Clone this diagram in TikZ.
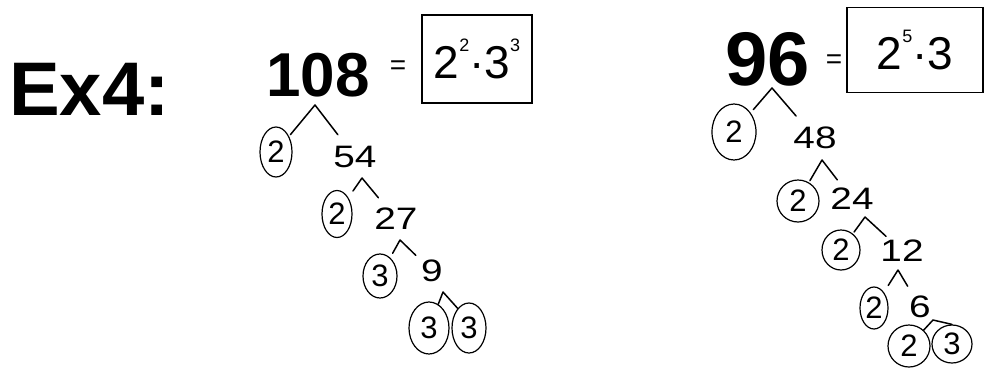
\documentclass[tikz,border=0pt]{standalone}
\usepackage{fontspec}
\setmainfont{Liberation Sans}
\usetikzlibrary{shapes.geometric}
\newcommand{\fsz}[1]{\fontsize{#1}{#1}\selectfont}
\newcommand{\ex}[1]{\raisebox{0.6em}{\fsz{18}#1}}
\newcommand{\widenum}[1]{\scalebox{1.25}[1]{#1}}
\begin{document}
\begin{tikzpicture}[x=1pt,y=-1pt,
  ring/.style 2 args={draw, ellipse, inner sep=0pt, line width=1.2pt,
     minimum width=#1, minimum height=#2, font=\fsz{31}},
  num/.style={font=\fsz{31}, inner sep=1pt},
  big/.style={font=\bfseries\fsz{#1}, inner sep=1pt},
  leg/.style={line width=1.5pt, line cap=round, line join=round},
  ansbox/.style={draw, line width=1.6pt, inner sep=0pt, font=\fsz{46}},
  eqs/.style={font=\fsz{28}, inner sep=0pt}
]
\useasboundingbox (0,0) rectangle (985,370);

% title
\node[big=76, anchor=west] (title) at (8,89) {Ex4:};

% ---------- left tree: 108 ----------
\node[big=62] (n108) at (318,75) {108};
\node[eqs] (eq1) at (398,68) {=};
\node[ansbox, minimum width=110, minimum height=88] (box1) at (477,59)
  {\raisebox{-7pt}{2\ex{2}·3\ex{3}}};

\node[ring={32}{50}] (c1) at (276,152) {2};
\node[num] (n54) at (355,157) {\widenum{54}};
\node[ring={30}{47}] (c2) at (337,214) {2};
\node[num] (n27) at (396,219) {\widenum{27}};
\node[ring={34}{44}] (c3) at (380,276) {3};
\node[num] (n9) at (432,271) {\widenum{9}};
\node[ring={40}{52}] (c4) at (429,328) {3};
\node[ring={34}{50}] (c5) at (469,328) {3};

\coordinate (a1) at (315,105);
\coordinate (a2) at (362,178);
\coordinate (a3) at (400,240);
\coordinate (a4) at (443,292);
\draw[leg, shorten <=2pt, shorten >=13pt] (c1) -- (a1) -- (n54);
\draw[leg, shorten <=8pt, shorten >=12pt] (c2) -- (a2) -- (n27);
\draw[leg, shorten <=5pt, shorten >=6pt] (c3) -- (a3) -- (n9);
\draw[leg] (c4) -- (a4) -- (c5.120);

% ---------- right tree: 96 ----------
\node[big=76] (n96) at (768,59) {96};
\node[eqs] (eq2) at (834,62) {=};
\node[ansbox, minimum width=136, minimum height=85] (box2) at (915,50)
  {\raisebox{-5pt}{2\ex{5}·3}};

\node[ring={44}{56}] (d1) at (734,132) {2};
\node[num] (n48) at (815,138) {\widenum{48}};
\node[ring={42}{42}] (d2) at (798,201) {2};
\node[num] (n24) at (852,199) {\widenum{24}};
\node[ring={38}{40}] (d3) at (841,250) {2};
\node[num] (n12) at (902,251) {\widenum{12}};
\node[ring={28}{42}] (d4) at (874,308) {2};
\node[num] (n6) at (920,307) {\widenum{6}};
\node[ring={42}{42}] (d5) at (909,346) {2};
\node[ring={40}{38}] (d6) at (952,344) {3};

\coordinate (b1) at (772,88);
\coordinate (b2) at (822,160);
\coordinate (b3) at (865,217);
\coordinate (b4) at (898,270);
\coordinate (b5) at (933,320);
\draw[leg, shorten <=4pt, shorten >=13pt] (d1) -- (b1) -- (n48);
\draw[leg, shorten <=2pt, shorten >=9pt] (d2) -- (b2) -- (n24);
\draw[leg, shorten <=2pt, shorten >=4pt] (d3) -- (b3) -- (n12);
\draw[leg, shorten <=8pt, shorten >=10pt] (d4) -- (b4) -- (n6);
\draw[leg] (d5) -- (b5) -- (d6.north);
\end{tikzpicture}
\end{document}
